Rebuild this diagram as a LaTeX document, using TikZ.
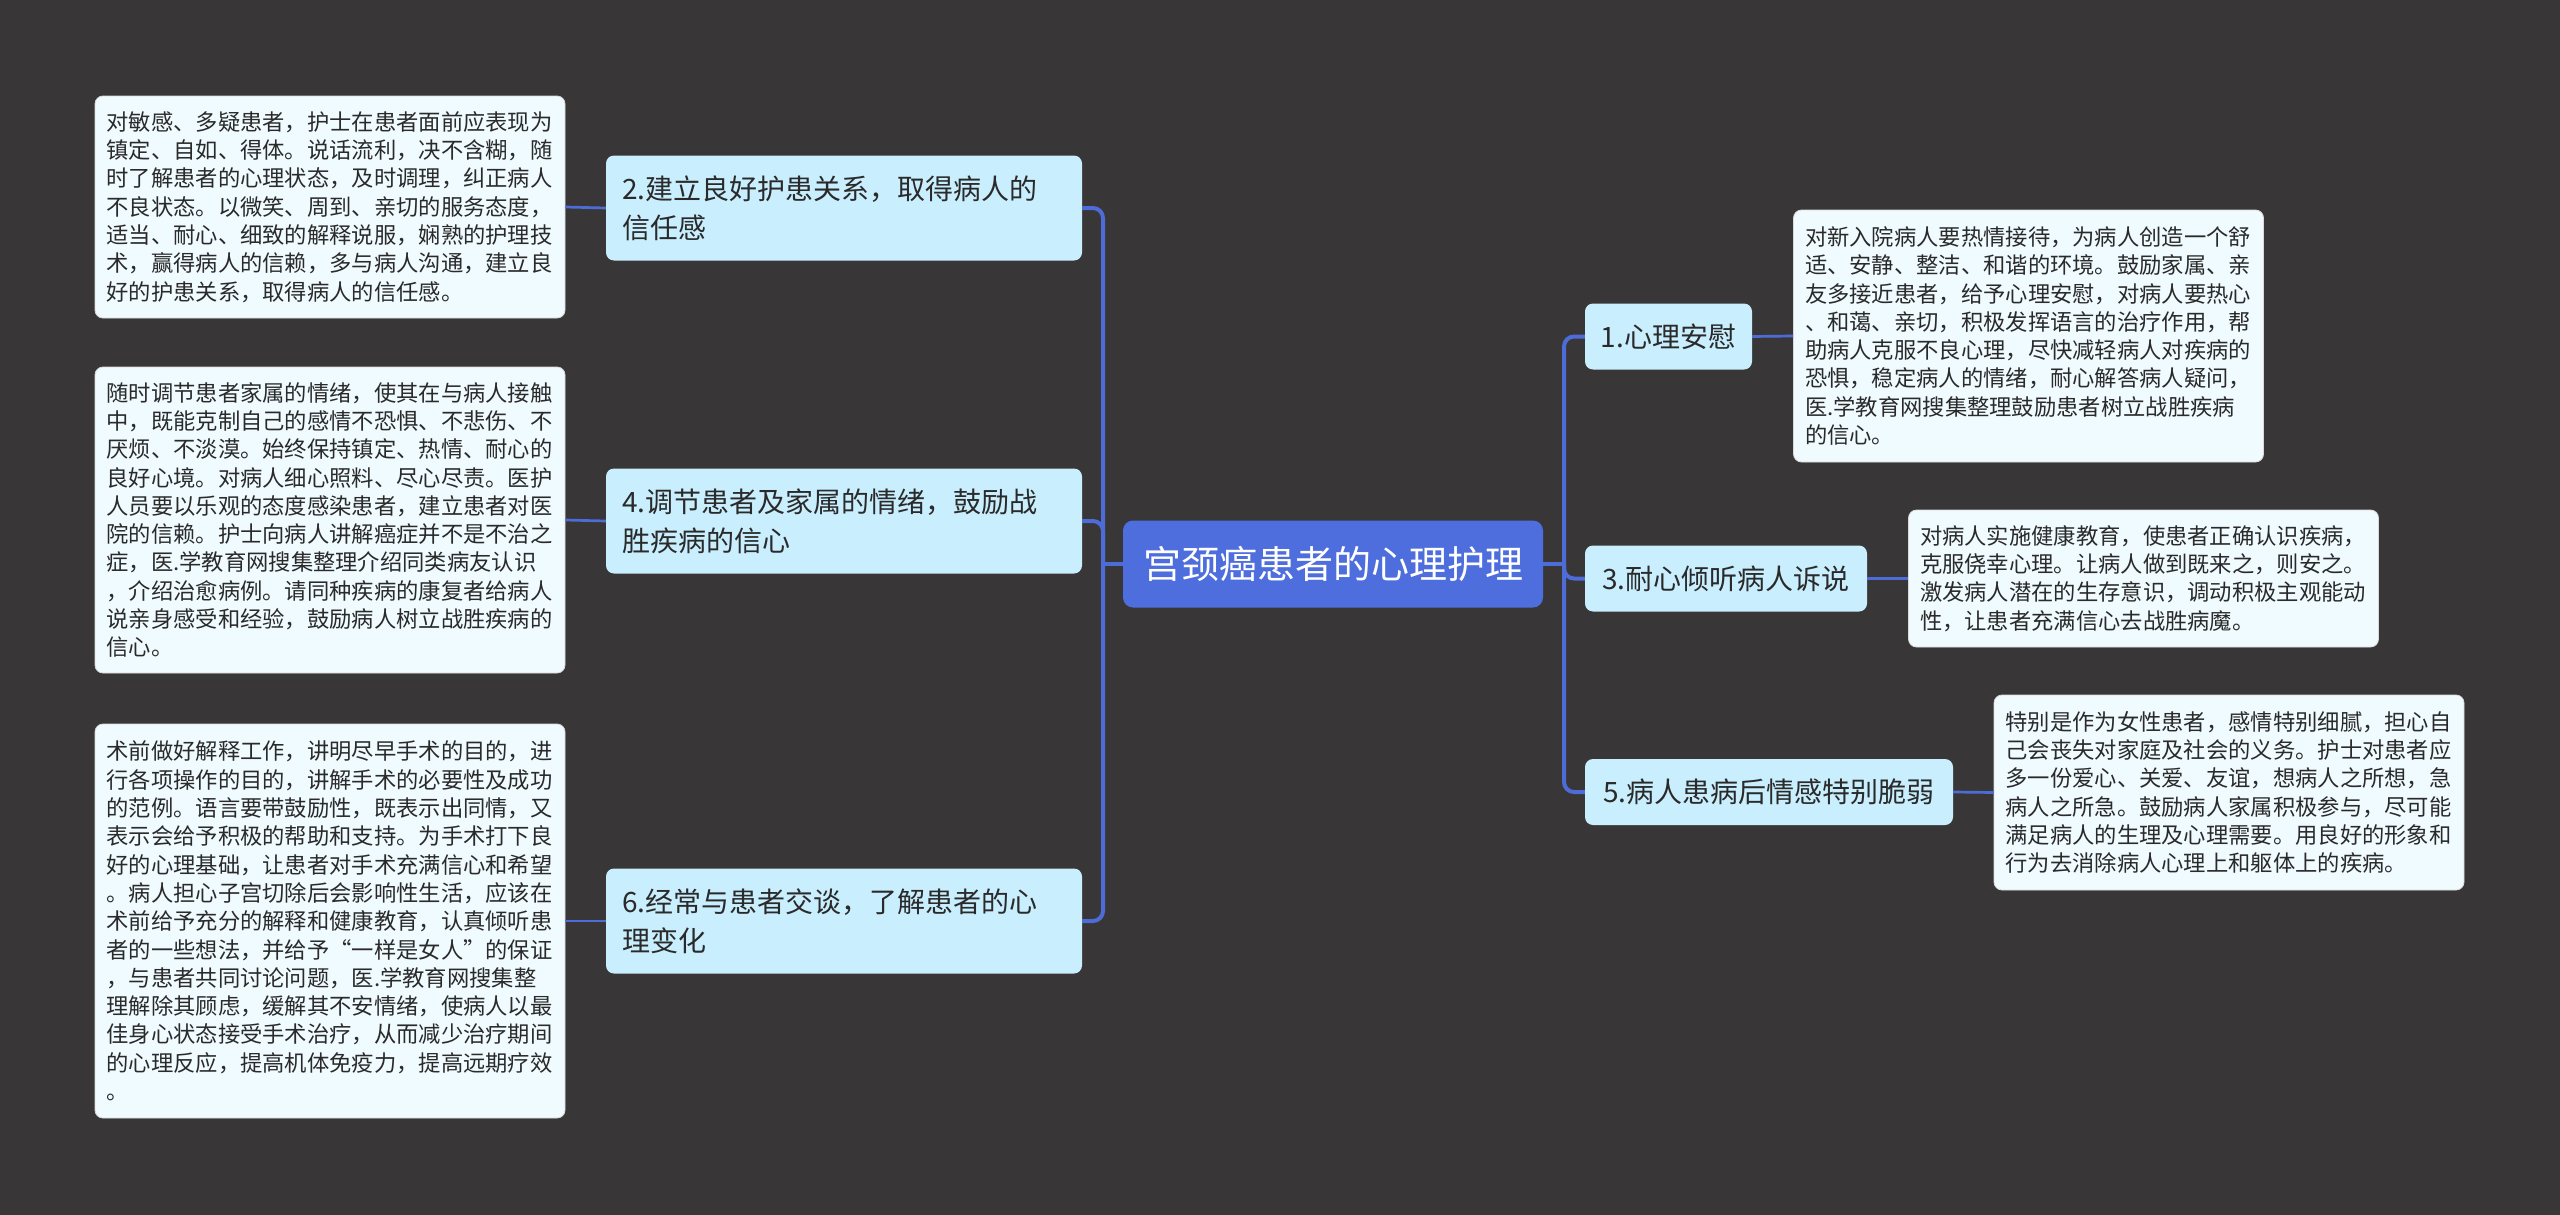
\documentclass[tikz,border=0pt]{standalone}
\usepackage{fontspec}
\setmainfont{Noto Sans CJK SC}
\definecolor{bgc}{HTML}{383637}
\definecolor{conn}{HTML}{4E6CD8}
\definecolor{lvone}{HTML}{C9EEFD}
\definecolor{detail}{HTML}{F0FBFF}
\definecolor{rootc}{HTML}{4E6EDD}
\definecolor{txt}{HTML}{2A2A2A}
\tikzset{
  link/.style={draw=conn, line width=4pt, rounded corners=10pt},
  sublink/.style={draw=conn, line width=2.7pt},
  rootbox/.style={rectangle, rounded corners=10pt, fill=rootc, text=white,
    minimum width=420pt, minimum height=87pt, inner sep=0pt,
    font=\fontsize{38}{44}\selectfont},
  lvbox/.style={rectangle, rounded corners=8pt, fill=lvone, text=txt, inner ysep=0pt,
    font=\fontsize{28}{39}\selectfont},
  lvleft/.style={lvbox, minimum width=476pt, minimum height=105pt, text width=444pt,
    inner xsep=16pt, align=left},
  lvright/.style={lvbox, minimum height=66pt, inner xsep=12pt, align=center},
  detbox/.style={rectangle, rounded corners=8pt, fill=detail, draw=black!15, line width=0.8pt,
    text=txt, text width=447pt, inner xsep=11.5pt, inner ysep=0pt, align=left,
    font=\fontsize{22.3}{28.3}\selectfont}
}
\begin{document}
\begin{tikzpicture}[x=1pt,y=-1pt]
\fill[bgc] (0,0) rectangle (2560,1215);
\useasboundingbox (0,0) rectangle (2560,1215);

% root
\node[rootbox] (root) at (1333,564) {宫颈癌患者的心理护理};

% left level-1 nodes
\node[lvleft] (n2) at (844,208) {2.建立良好护患关系，取得病人的\\信任感};
\node[lvleft] (n4) at (844,521) {4.调节患者及家属的情绪，鼓励战\\胜疾病的信心};
\node[lvleft] (n6) at (844,921) {6.经常与患者交谈，了解患者的心\\理变化};

% right level-1 nodes
\node[lvright, minimum width=167pt] (n1) at (1668.5,336.5) {1.心理安慰};
\node[lvright, minimum width=282pt] (n3) at (1726,578.5) {3.耐心倾听病人诉说};
\node[lvright, minimum width=368pt] (n5) at (1769,792) {5.病人患病后情感特别脆弱};

% left details
\node[detbox, minimum height=222pt] (d2) at (330,207) {对敏感、多疑患者，护士在患者面前应表现为\\镇定、自如、得体。说话流利，决不含糊，随\\时了解患者的心理状态，及时调理，纠正病人\\不良状态。以微笑、周到、亲切的服务态度，\\适当、耐心、细致的解释说服，娴熟的护理技\\术，赢得病人的信赖，多与病人沟通，建立良\\好的护患关系，取得病人的信任感。};
\node[detbox, minimum height=306pt] (d4) at (330,520) {随时调节患者家属的情绪，使其在与病人接触\\中，既能克制自己的感情不恐惧、不悲伤、不\\厌烦、不淡漠。始终保持镇定、热情、耐心的\\良好心境。对病人细心照料、尽心尽责。医护\\人员要以乐观的态度感染患者，建立患者对医\\院的信赖。护士向病人讲解癌症并不是不治之\\症，医.学教育网搜集整理介绍同类病友认识\\，介绍治愈病例。请同种疾病的康复者给病人\\说亲身感受和经验，鼓励病人树立战胜疾病的\\信心。};
\node[detbox, minimum height=394pt] (d6) at (330,921) {术前做好解释工作，讲明尽早手术的目的，进\\行各项操作的目的，讲解手术的必要性及成功\\的范例。语言要带鼓励性，既表示出同情，又\\表示会给予积极的帮助和支持。为手术打下良\\好的心理基础，让患者对手术充满信心和希望\\。病人担心子宫切除后会影响性生活，应该在\\术前给予充分的解释和健康教育，认真倾听患\\者的一些想法，并给予“一样是女人”的保证\\，与患者共同讨论问题，医.学教育网搜集整\\理解除其顾虑，缓解其不安情绪，使病人以最\\佳身心状态接受手术治疗，从而减少治疗期间\\的心理反应，提高机体免疫力，提高远期疗效\\。};

% right details
\node[detbox, minimum height=252pt] (d1) at (2028.5,336) {对新入院病人要热情接待，为病人创造一个舒\\适、安静、整洁、和谐的环境。鼓励家属、亲\\友多接近患者，给予心理安慰，对病人要热心\\、和蔼、亲切，积极发挥语言的治疗作用，帮\\助病人克服不良心理，尽快减轻病人对疾病的\\恐惧，稳定病人的情绪，耐心解答病人疑问，\\医.学教育网搜集整理鼓励患者树立战胜疾病\\的信心。};
\node[detbox, minimum height=137pt] (d3) at (2143.5,578.5) {对病人实施健康教育，使患者正确认识疾病，\\克服侥幸心理。让病人做到既来之，则安之。\\激发病人潜在的生存意识，调动积极主观能动\\性，让患者充满信心去战胜病魔。};
\node[detbox, minimum height=195pt] (d5) at (2229,792.5) {特别是作为女性患者，感情特别细腻，担心自\\己会丧失对家庭及社会的义务。护士对患者应\\多一份爱心、关爱、友谊，想病人之所想，急\\病人之所急。鼓励病人家属积极参与，尽可能\\满足病人的生理及心理需要。用良好的形象和\\行为去消除病人心理上和躯体上的疾病。};

% trunks
\coordinate (lt) at (1103,564);
\coordinate (rt) at (1564,564);
\draw[link] (root.west) -- (lt);
\draw[link] (root.east) -- (rt);
\draw[link] (lt) |- (n2.east);
\draw[link] (lt) |- (n4.east);
\draw[link] (lt) |- (n6.east);
\draw[link] (rt) |- (n1.west);
\draw[link] (rt) |- (n3.west);
\draw[link] (rt) |- (n5.west);

% detail links
\draw[sublink] (n2.west) -- (d2.east);
\draw[sublink] (n4.west) -- (d4.east);
\draw[sublink] (n6.west) -- (d6.east);
\draw[sublink] (n1.east) -- (d1.west);
\draw[sublink] (n3.east) -- (d3.west);
\draw[sublink] (n5.east) -- (d5.west);
\end{tikzpicture}
\end{document}
